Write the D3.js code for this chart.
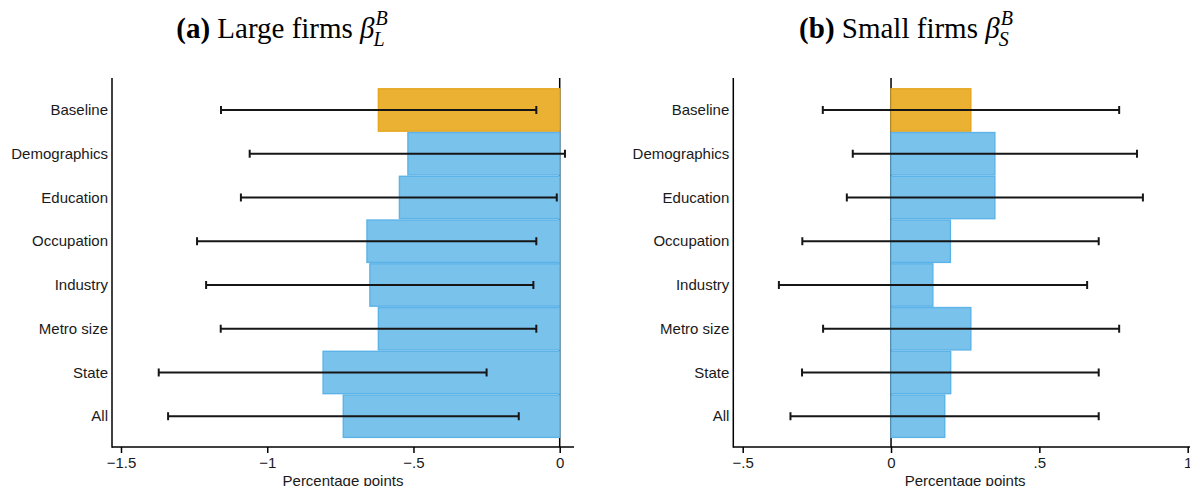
<!DOCTYPE html>
<html>
<head>
<meta charset="utf-8">
<style>
  body { margin: 0; background: #fff; }
  text { font-family: "Liberation Sans", Arial, Helvetica, sans-serif; }
  .title text, text.title { font-family: "Liberation Serif", "Times New Roman", serif; }
</style>
</head>
<body>
<div id="viz_area"></div>

<script src="https://d3js.org/d3.v7.min.js"></script>
<script>
// categories, top to bottom
var categories = ["Baseline", "Demographics", "Education", "Occupation",
                  "Industry", "Metro size", "State", "All"];

// (a) large firms: coefficient and 95% CI
var coefLarge = [-0.620, -0.519, -0.548, -0.659, -0.649, -0.620, -0.809, -0.740];
var loLarge   = [-1.158, -1.060, -1.090, -1.240, -1.209, -1.159, -1.371, -1.339];
var hiLarge   = [-0.080,  0.018, -0.010, -0.080, -0.090, -0.080, -0.250, -0.140];

// (b) small firms
var coefSmall = [0.269, 0.350, 0.350, 0.200, 0.141, 0.269, 0.201, 0.181];
var loSmall   = [-0.230, -0.129, -0.149, -0.299, -0.378, -0.229, -0.300, -0.339];
var hiSmall   = [0.769, 0.829, 0.849, 0.700, 0.661, 0.769, 0.700, 0.700];

// x ticks
var ticksLarge = [-1.5, -1, -0.5, 0];
var tickLabelsLarge = ["\u22121.5", "\u22121", "\u2212.5", "0"];
var ticksSmall = [-0.5, 0, 0.5, 1];
var tickLabelsSmall = ["\u2212.5", "0", ".5", "1"];

var W = 1190, H = 486;
var svg = d3.select("#viz_area").append("svg")
    .attr("width", W).attr("height", H);

var orange = "#ebb133", orangeLine = "#e6a61f";
var blue = "#79c2ec", blueLine = "#5cb3e7";

// shared vertical layout
var plotTop = 78, axisY = 447;
var y = d3.scaleBand().domain(categories).range([88.1, 438.1]).padding(0);

function panel(opt) {
    var x = d3.scaleLinear().domain(opt.domain).range(opt.range);
    var g = svg.append("g");
    var rows = categories.map(function(c, i) {
        return {cat: c, b: opt.coef[i], lo: opt.lo[i], hi: opt.hi[i], base: i === 0};
    });

    // zero line
    g.append("line")
        .attr("x1", x(0)).attr("x2", x(0))
        .attr("y1", plotTop).attr("y2", axisY)
        .attr("stroke", "#000").attr("stroke-width", 1.5);

    // bars
    g.selectAll("rect.bar").data(rows).enter().append("rect")
        .attr("class", "bar")
        .attr("x", function(d) { return x(Math.min(0, d.b)); })
        .attr("width", function(d) { return Math.abs(x(d.b) - x(0)); })
        .attr("y", function(d) { return y(d.cat) + 0.7; })
        .attr("height", y.bandwidth() - 1.4)
        .attr("fill", function(d) { return d.base ? orange : blue; })
        .attr("stroke", function(d) { return d.base ? orangeLine : blueLine; })
        .attr("stroke-width", 1.4);

    // error bars
    var ci = g.selectAll("g.ci").data(rows).enter().append("g")
        .attr("class", "ci")
        .attr("transform", function(d) { return "translate(0," + (y(d.cat) + y.bandwidth() / 2) + ")"; })
        .attr("stroke", "#161616").attr("stroke-width", 2);
    ci.append("line")
        .attr("x1", function(d) { return x(d.lo); })
        .attr("x2", function(d) { return x(d.hi); });
    ci.append("line")
        .attr("x1", function(d) { return x(d.lo); })
        .attr("x2", function(d) { return x(d.lo); })
        .attr("y1", -4).attr("y2", 4);
    ci.append("line")
        .attr("x1", function(d) { return x(d.hi); })
        .attr("x2", function(d) { return x(d.hi); })
        .attr("y1", -4).attr("y2", 4);

    // axes lines
    var x0 = opt.axisLeft, x1 = opt.axisRight;
    g.append("line")
        .attr("x1", x0).attr("x2", x0).attr("y1", plotTop).attr("y2", axisY + 0.75)
        .attr("stroke", "#000").attr("stroke-width", 1.5);
    g.append("line")
        .attr("x1", x0).attr("x2", x1).attr("y1", axisY).attr("y2", axisY)
        .attr("stroke", "#000").attr("stroke-width", 1.5);

    // x axis ticks
    var ax = g.append("g")
        .attr("transform", "translate(0," + axisY + ")")
        .call(d3.axisBottom(x)
            .tickValues(opt.ticks)
            .tickSize(6).tickPadding(4)
            .tickFormat(function(d, i) { return opt.tickLabels[i]; }));
    ax.select(".domain").remove();
    ax.selectAll(".tick line").attr("stroke", "#000").attr("stroke-width", 1.5);
    ax.selectAll(".tick text")
        .attr("fill", "#1a1a1a")
        .style("font-size", "15px")
        .style("font-family", "'Liberation Sans', Arial, sans-serif");

    // x axis title (cut at the bottom edge, as in the original)
    g.append("text")
        .attr("x", (x0 + x1) / 2).attr("y", 485.5)
        .attr("text-anchor", "middle")
        .attr("fill", "#1a1a1a")
        .style("font-size", "15px")
        .text("Percentage points");

    // category labels
    g.selectAll("text.cat").data(rows).enter().append("text")
        .attr("class", "cat")
        .attr("x", x0 - 4)
        .attr("y", function(d) { return y(d.cat) + y.bandwidth() / 2; })
        .attr("dy", "0.35em")
        .attr("text-anchor", "end")
        .attr("fill", "#1a1a1a")
        .style("font-size", "15px")
        .text(function(d) { return d.cat; });

    // panel title
    var t = svg.append("text")
        .attr("class", "title")
        .attr("x", 0).attr("y", 38)
        .attr("fill", "#000")
        .style("font-size", "29px");
    t.append("tspan").attr("font-weight", "bold").text(opt.letter);
    t.append("tspan").text(" " + opt.name + " ");
    t.append("tspan").attr("font-style", "italic").text("\u03b2");
    var wMain = t.node().getComputedTextLength();
    var sup = svg.append("text").attr("class", "title")
        .attr("y", 25).attr("font-style", "italic")
        .style("font-size", "20px").text("B");
    var sub = svg.append("text").attr("class", "title")
        .attr("y", 46).attr("font-style", "italic")
        .style("font-size", "20px").text(opt.sub);
    var wScript = Math.max(sup.node().getComputedTextLength(), sub.node().getComputedTextLength());
    var start = opt.titleCenter - (wMain + 1 + wScript) / 2;
    t.attr("x", start);
    sup.attr("x", start + wMain + 1);
    sub.attr("x", start + wMain - 1);
}

panel({
    domain: [-1.5, 0], range: [121, 559.7],
    axisLeft: 112, axisRight: 574,
    coef: coefLarge, lo: loLarge, hi: hiLarge,
    ticks: ticksLarge, tickLabels: tickLabelsLarge,
    letter: "(a)", name: "Large firms", sub: "L", titleCenter: 282
});

panel({
    domain: [-0.5, 1], range: [742.7, 1187.7],
    axisLeft: 733.3, axisRight: 1197,
    coef: coefSmall, lo: loSmall, hi: hiSmall,
    ticks: ticksSmall, tickLabels: tickLabelsSmall,
    letter: "(b)", name: "Small firms", sub: "S", titleCenter: 906
});
</script>
</body>
</html>
